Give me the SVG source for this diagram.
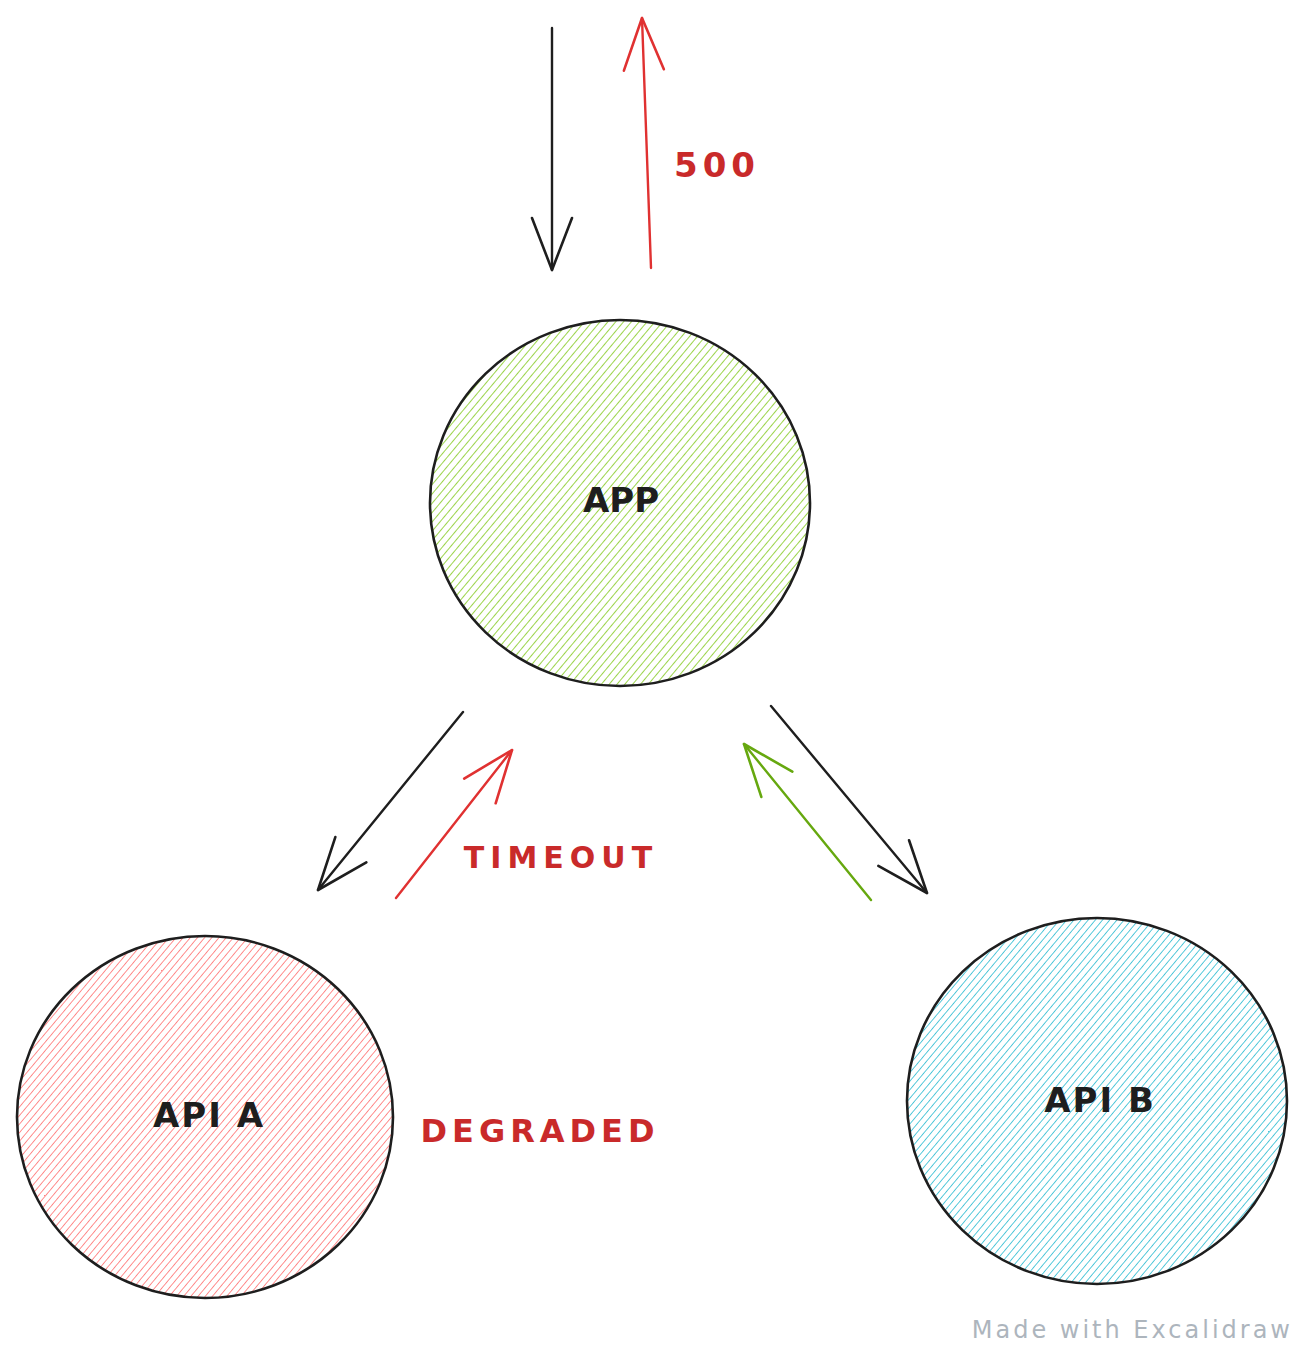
<svg xmlns="http://www.w3.org/2000/svg" width="1308" height="1350" viewBox="0 0 1308 1350">
<style>
.node-outline{fill:none;stroke:#1e1e1e;stroke-width:2.6}
.lbl{font-family:"DejaVu Sans","Liberation Sans",sans-serif;font-weight:bold;text-anchor:middle}
.wm{font-family:"DejaVu Sans","Liberation Sans",sans-serif;text-anchor:end}
.conn{fill:none;stroke-width:2.4;stroke-linecap:round}
</style>
<defs>
<pattern id="hatchG" patternUnits="userSpaceOnUse" width="6" height="6" patternTransform="rotate(40)">
<line x1="0" y1="0" x2="0" y2="6" stroke="#82c91e" stroke-width="1.6"/>
</pattern>
<pattern id="hatchR" patternUnits="userSpaceOnUse" width="5.5" height="5.5" patternTransform="rotate(40)">
<line x1="0" y1="0" x2="0" y2="5.5" stroke="#ff6b6b" stroke-width="1.5"/>
</pattern>
<pattern id="hatchC" patternUnits="userSpaceOnUse" width="5.5" height="5.5" patternTransform="rotate(40)">
<line x1="0" y1="0" x2="0" y2="5.5" stroke="#22b8cf" stroke-width="1.5"/>
</pattern>
<marker id="headK" markerUnits="userSpaceOnUse" markerWidth="60" markerHeight="50" refX="0" refY="0" viewBox="-55 -25 60 50" orient="auto" overflow="visible">
<path d="M-52,-20 L0,0 L-52,20" fill="none" stroke="#1e1e1e" stroke-width="2.6" stroke-linecap="round" stroke-linejoin="round"/>
</marker>
<marker id="headR" markerUnits="userSpaceOnUse" markerWidth="60" markerHeight="50" refX="0" refY="0" viewBox="-55 -25 60 50" orient="auto" overflow="visible">
<path d="M-52,-20 L0,0 L-52,20" fill="none" stroke="#e03131" stroke-width="2.6" stroke-linecap="round" stroke-linejoin="round"/>
</marker>
<marker id="headG" markerUnits="userSpaceOnUse" markerWidth="60" markerHeight="50" refX="0" refY="0" viewBox="-55 -25 60 50" orient="auto" overflow="visible">
<path d="M-52,-20 L0,0 L-52,20" fill="none" stroke="#66a80f" stroke-width="2.6" stroke-linecap="round" stroke-linejoin="round"/>
</marker>
</defs>
<rect width="1308" height="1350" fill="#ffffff"/>

<g id="connectors">
<line class="conn" x1="552" y1="28" x2="552" y2="270" stroke="#1e1e1e" marker-end="url(#headK)"/>
<line class="conn" x1="651" y1="268" x2="642" y2="18" stroke="#e03131" marker-end="url(#headR)"/>
<line class="conn" x1="463" y1="712" x2="318" y2="890" stroke="#1e1e1e" marker-end="url(#headK)"/>
<line class="conn" x1="396" y1="898" x2="512" y2="750" stroke="#e03131" marker-end="url(#headR)"/>
<line class="conn" x1="871" y1="900" x2="744" y2="744" stroke="#66a80f" marker-end="url(#headG)"/>
<line class="conn" x1="771" y1="706" x2="927" y2="893" stroke="#1e1e1e" marker-end="url(#headK)"/>
</g>

<g id="node-app">
<ellipse cx="620" cy="503" rx="190" ry="183" fill="url(#hatchG)"/>
<ellipse class="node-outline" cx="620" cy="503" rx="190" ry="183"/>
<text class="lbl" x="621" y="512" font-size="34" fill="#1e1e1e">APP</text>
</g>

<g id="node-api-a">
<ellipse cx="205" cy="1117" rx="188" ry="181" fill="url(#hatchR)"/>
<ellipse class="node-outline" cx="205" cy="1117" rx="188" ry="181"/>
<text class="lbl" x="209" y="1127" font-size="34" letter-spacing="2" fill="#1e1e1e">API A</text>
</g>

<g id="node-api-b">
<ellipse cx="1097" cy="1101" rx="190" ry="183" fill="url(#hatchC)"/>
<ellipse class="node-outline" cx="1097" cy="1101" rx="190" ry="183"/>
<text class="lbl" x="1100" y="1112" font-size="34" letter-spacing="2" fill="#1e1e1e">API B</text>
</g>

<g id="labels">
<text class="lbl" x="717" y="177" font-size="34" letter-spacing="5" fill="#c92a2a">500</text>
<text class="lbl" x="561" y="868" font-size="30" letter-spacing="6" fill="#c92a2a">TIMEOUT</text>
<text class="lbl" x="540" y="1142" font-size="32" letter-spacing="5" fill="#c92a2a">DEGRADED</text>
<text class="wm" x="1293" y="1338" font-size="24" letter-spacing="3" fill="#adb5bd">Made with Excalidraw</text>
</g>
</svg>
